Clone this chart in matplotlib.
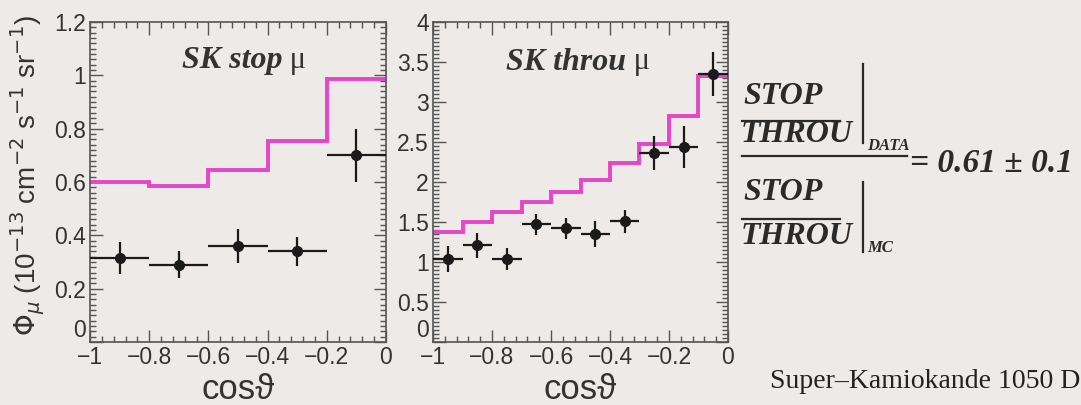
import numpy as np
import matplotlib.pyplot as plt
from matplotlib.ticker import MultipleLocator
from matplotlib.lines import Line2D

# stopping muons: MC histogram (bins of 0.2) and data points
stop_edges = [-1.0, -0.8, -0.6, -0.4, -0.2, 0.0]
stop_mc = [0.60, 0.585, 0.645, 0.755, 0.985]
stop_x = [-0.9, -0.7, -0.5, -0.3, -0.1]
stop_y = [0.315, 0.29, 0.36, 0.34, 0.70]
stop_yerr = [0.06, 0.05, 0.065, 0.055, 0.10]

# through-going muons: MC histogram (bins of 0.1) and data points
thr_edges = [-1.0, -0.9, -0.8, -0.7, -0.6, -0.5, -0.4, -0.3, -0.2, -0.1, 0.0]
thr_mc = [1.375, 1.50, 1.625, 1.75, 1.875, 2.03, 2.24, 2.47, 2.82, 3.33]
thr_x = [-0.95, -0.85, -0.75, -0.65, -0.55, -0.45, -0.35, -0.25, -0.15, -0.05]
thr_y = [1.04, 1.21, 1.04, 1.47, 1.42, 1.35, 1.51, 2.36, 2.44, 3.35]
thr_yerr = [0.16, 0.155, 0.135, 0.135, 0.135, 0.165, 0.145, 0.21, 0.26, 0.28]

xticks = [-1, -0.8, -0.6, -0.4, -0.2, 0]
xticklabels = ['\u22121', '\u22120.8', '\u22120.6', '\u22120.4', '\u22120.2', '0']
stop_yticks = [0, 0.2, 0.4, 0.6, 0.8, 1.0, 1.2]
stop_yticklabels = ['0', '0.2', '0.4', '0.6', '0.8', '1', '1.2']
thr_yticks = [0, 0.5, 1, 1.5, 2, 2.5, 3, 3.5, 4]
thr_yticklabels = ['0', '0.5', '1', '1.5', '2', '2.5', '3', '3.5', '4']

bg = '#edeae7'
magenta = '#e645c8'
ink = '#333333'
sans = ['Liberation Sans', 'DejaVu Sans']
serif = 'Liberation Serif'

fig = plt.figure(figsize=(10.81, 4.05), dpi=100, facecolor=bg)
ax1 = fig.add_axes([90 / 1081, 63 / 405, 296 / 1081, 320 / 405])
ax2 = fig.add_axes([433 / 1081, 63 / 405, 295 / 1081, 320 / 405])


def draw_panel(ax, edges, mc, x, y, yerr, xerr, ymax, yticks, yticklabels,
               ymin_step, title, tx, ty):
    ax.set_facecolor(bg)
    ax.stairs(mc, edges, color=magenta, lw=2.8, baseline=None, zorder=2)
    ax.errorbar(x, y, yerr=yerr, xerr=xerr, fmt='o', color='#1a1a1a',
                ms=7, elinewidth=1.6, capsize=0, zorder=3)
    ax.set_xlim(-1, 0)
    ax.set_ylim(0, ymax)
    ax.set_xticks(xticks)
    ax.set_xticklabels(xticklabels)
    ax.set_yticks(yticks)
    ax.set_yticklabels(yticklabels)
    ax.xaxis.set_minor_locator(MultipleLocator(0.04))
    ax.yaxis.set_minor_locator(MultipleLocator(ymin_step))
    ax.tick_params(which='both', direction='in', top=True, right=True,
                   color='#555555', width=1)
    ax.tick_params(which='major', length=9, labelsize=16.5, pad=3)
    ax.tick_params(which='minor', length=4)
    for lab in ax.get_xticklabels() + ax.get_yticklabels():
        lab.set_family(sans)
        lab.set_color(ink)
    # the "0" on the y axis sits a little above its tick, as in the original
    ax.get_yticklabels()[0].set_va('bottom')
    for s in ax.spines.values():
        s.set_color('#555555')
        s.set_linewidth(1.2)
    ax.set_xlabel('cos\u03d1', fontsize=25, family=sans, color=ink, labelpad=3)
    t = ax.text(tx, ty, title, transform=ax.transAxes, ha='center', va='center',
                fontsize=23, family=serif, weight='bold', style='italic', color=ink)
    ax.annotate(' \u03bc', xy=(1, 0.5), xycoords=t, ha='left', va='center',
                fontsize=22, family=serif, color=ink)


draw_panel(ax1, stop_edges, stop_mc, stop_x, stop_y, stop_yerr, 0.1,
           1.2, stop_yticks, stop_yticklabels, 0.02, 'SK stop', 0.48, 0.88)
draw_panel(ax2, thr_edges, thr_mc, thr_x, thr_y, thr_yerr, 0.05,
           4, thr_yticks, thr_yticklabels, 0.05, 'SK throu', 0.45, 0.875)

fig.text(28 / 1081, 1 - 175 / 405,
         r'$\Phi_\mu$ (10$^{-13}$ cm$^{-2}$ s$^{-1}$ sr$^{-1}$)',
         rotation=90, ha='center', va='center', fontsize=20, family=sans, color=ink)

# ratio formula on the right
tk = dict(family=serif, weight='bold', style='italic', color='#2a2a2a')


def px(x, y):
    return x / 1081, 1 - y / 405


fig.text(*px(743, 97), 'STOP', fontsize=23, va='center', ha='left', **tk)
fig.text(*px(741, 135), 'THROU', fontsize=23, va='center', ha='left', **tk)
fig.text(*px(867, 146), 'DATA', fontsize=12, va='center', ha='left', **tk)
fig.text(*px(743, 193), 'STOP', fontsize=23, va='center', ha='left', **tk)
fig.text(*px(741, 237), 'THROU', fontsize=23, va='center', ha='left', **tk)
fig.text(*px(867, 248), 'MC', fontsize=12, va='center', ha='left', **tk)
fig.text(*px(910, 163), '= 0.61 \u00b1 0.1', fontsize=24, va='center', ha='left', **tk)
for (x0, x1, y0, y1) in [(742, 840, 121, 121), (742, 907, 156, 156),
                         (742, 840, 219, 219), (863, 863, 64, 143),
                         (863, 863, 182, 252)]:
    fig.add_artist(Line2D([x0 / 1081, x1 / 1081], [1 - y0 / 405, 1 - y1 / 405],
                          color='#2a2a2a', lw=1.6))

fig.text(*px(770, 382), 'Super\u2013Kamiokande 1050 Days', fontsize=20,
         family=serif, color='#222222', va='center', ha='left')

fig.savefig('out.png', dpi=100, facecolor=bg)
